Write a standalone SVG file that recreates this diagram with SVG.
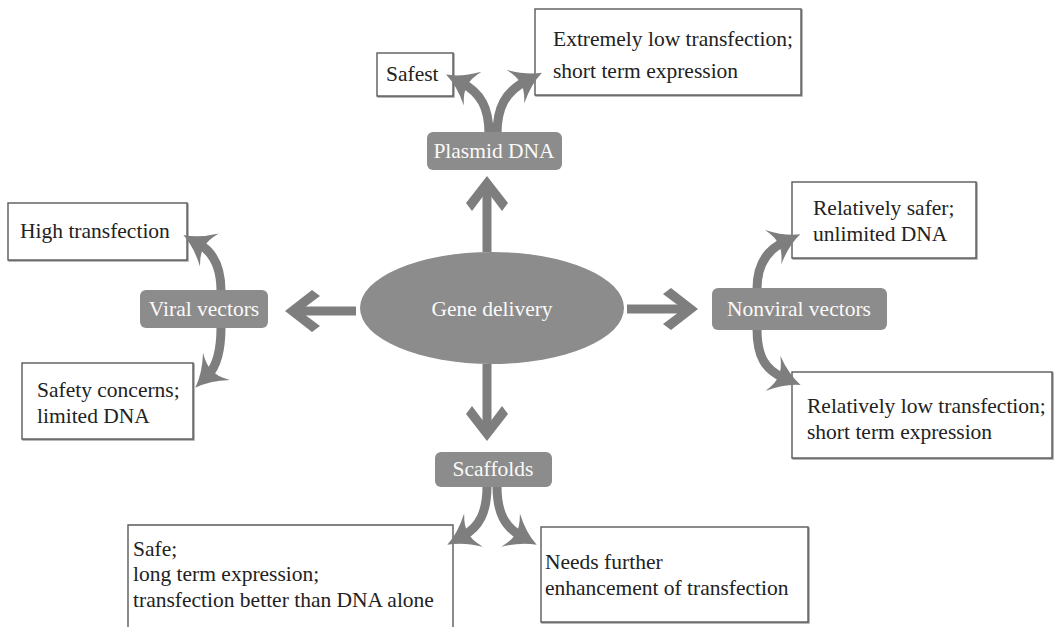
<svg xmlns="http://www.w3.org/2000/svg" width="1057" height="627" viewBox="0 0 1057 627">
  <style>
    .note rect { fill: #ffffff; stroke: #5a5a5a; stroke-width: 1.4; filter: url(#edge); }
    .note path { fill: none; stroke: #5a5a5a; stroke-width: 1.4; }
    .note text { font-size: 21.5px; fill: #222222; }
    .hub rect, .hub ellipse { fill: #8c8c8c; }
    .hub text { font-size: 21.5px; fill: #fafafa; text-anchor: middle; }
    .straight { fill: none; stroke: #7e7e7e; stroke-width: 9; marker-end: url(#chev); }
    .curved { fill: none; stroke: #7e7e7e; stroke-width: 9; marker-end: url(#swept); }
  </style>
  <defs>
    <filter id="edge" x="-5%" y="-5%" width="110%" height="115%">
      <feDropShadow dx="1" dy="1" stdDeviation="0.7" flood-color="#444444" flood-opacity="0.55"/>
    </filter>
    <!-- chevron head for the straight arrows; the line ends at the origin -->
    <marker id="chev" markerUnits="userSpaceOnUse" orient="auto" refX="0" refY="0" markerWidth="40" markerHeight="50" overflow="visible">
      <path d="M12,0 L-15,-21 L-23,-15 L-3,0 L-23,15 L-15,21 Z" fill="#7e7e7e"/>
    </marker>
    <!-- swept head for the curved arrows -->
    <marker id="swept" markerUnits="userSpaceOnUse" orient="auto" refX="0" refY="0" markerWidth="50" markerHeight="50" overflow="visible">
      <path d="M18,0 Q3,-5 -12,-19 Q-5,-7 -6,0 Q-5,7 -12,19 Q3,5 18,0 Z" fill="#7e7e7e"/>
    </marker>
  </defs>

  <rect width="1057" height="627" fill="#ffffff"/>

  <g font-family="'Liberation Serif', 'DejaVu Serif', 'Times New Roman', serif">
    <!-- outcome boxes -->
    <g id="safest" class="note">
      <rect x="377" y="53" width="76" height="43"/>
      <text x="386" y="81">Safest</text>
    </g>
    <g id="extremely-low" class="note">
      <rect x="535" y="9" width="266" height="86"/>
      <text x="553" y="46">Extremely low transfection;</text>
      <text x="553" y="78">short term expression</text>
    </g>
    <g id="high-transfection" class="note">
      <rect x="8" y="203" width="179" height="57"/>
      <text x="20" y="238">High transfection</text>
    </g>
    <g id="safety-concerns" class="note">
      <rect x="22" y="363" width="171" height="76"/>
      <text x="37" y="397">Safety concerns;</text>
      <text x="37" y="423">limited DNA</text>
    </g>
    <g id="relatively-safer" class="note">
      <rect x="792" y="182" width="184" height="76"/>
      <text x="813" y="215">Relatively safer;</text>
      <text x="813" y="241">unlimited DNA</text>
    </g>
    <g id="relatively-low" class="note">
      <rect x="792" y="372" width="260" height="86"/>
      <text x="807" y="413">Relatively low transfection;</text>
      <text x="807" y="439">short term expression</text>
    </g>
    <g id="scaffold-safe" class="note">
      <path d="M128,640 V525 H453 V640"/>
      <text x="133" y="556">Safe;</text>
      <text x="133" y="581">long term expression;</text>
      <text x="133" y="607">transfection better than DNA alone</text>
    </g>
    <g id="needs-further" class="note">
      <rect x="541" y="527" width="267" height="95"/>
      <text x="545" y="569">Needs further</text>
      <text x="545" y="595">enhancement of transfection</text>
    </g>

    <!-- connectors -->
    <g id="connectors">
      <line class="straight" x1="487" y1="252" x2="487" y2="188"/>
      <line class="straight" x1="627" y1="309" x2="686" y2="309"/>
      <line class="straight" x1="356" y1="311" x2="297" y2="311"/>
      <line class="straight" x1="487" y1="364" x2="487" y2="429"/>

      <path class="curved" d="M489,134 C489,108 481,93 462,83"/>
      <path class="curved" d="M497,134 C497,108 505,92 526,81"/>
      <path class="curved" d="M221,291 C221,266 213,252 199,244"/>
      <path class="curved" d="M221,327 C221,353 216,367 208,375"/>
      <path class="curved" d="M757,289 C757,264 767,250 784,242"/>
      <path class="curved" d="M757,329 C757,356 765,370 784,378"/>
      <path class="curved" d="M487,486 C487,513 479,527 463,536"/>
      <path class="curved" d="M497,486 C497,513 505,527 521,536"/>
    </g>

    <!-- delivery routes -->
    <g id="gene-delivery" class="hub">
      <ellipse cx="492" cy="308" rx="132" ry="56"/>
      <text x="492" y="316">Gene delivery</text>
    </g>
    <g id="plasmid-dna" class="hub">
      <rect x="427" y="132" width="135" height="38" rx="6"/>
      <text x="494" y="158">Plasmid DNA</text>
    </g>
    <g id="viral-vectors" class="hub">
      <rect x="140" y="290" width="128" height="38" rx="6"/>
      <text x="204" y="316">Viral vectors</text>
    </g>
    <g id="nonviral-vectors" class="hub">
      <rect x="712" y="288" width="175" height="42" rx="6"/>
      <text x="799" y="316">Nonviral vectors</text>
    </g>
    <g id="scaffolds" class="hub">
      <rect x="435" y="452" width="117" height="35" rx="6"/>
      <text x="493" y="476">Scaffolds</text>
    </g>
  </g>
</svg>
